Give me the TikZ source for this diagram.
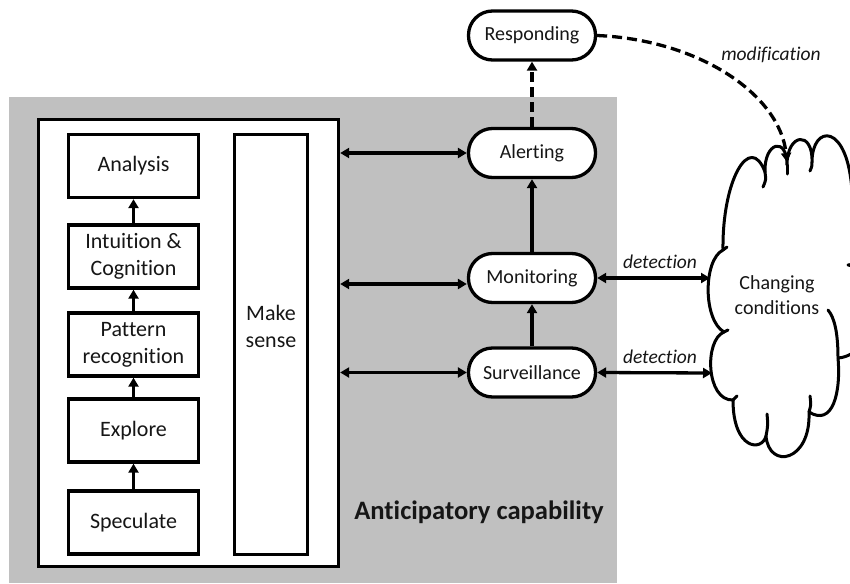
\documentclass[tikz,border=0pt]{standalone}
\usepackage{fontspec}
\setmainfont{Carlito}[Ligatures=NoCommon]
\usetikzlibrary{arrows.meta,calc}
\definecolor{panelgray}{RGB}{192,192,192}
\definecolor{ink}{RGB}{22,22,22}

\begin{document}
\begin{tikzpicture}[x=1pt,y=-1pt,
  every node/.style={text=ink},
  lw/.style={line width=3.3pt, draw=black},
  tip/.style={-{Triangle[length=9pt,width=10pt]}},
  twoway/.style={{Triangle[length=9pt,width=10pt]}-{Triangle[length=9pt,width=10pt]}},
  dashline/.style={dash pattern=on 10pt off 5pt},
  stagebox/.style={lw, fill=white, minimum width=130pt, minimum height=63pt,
    inner sep=0pt, align=center, font=\fontsize{22}{27}\selectfont},
  pill/.style={lw, fill=white, rounded corners=24pt, minimum width=127pt,
    minimum height=49pt, inner sep=0pt, font=\fontsize{20}{24}\selectfont},
  edgelabel/.style={font=\fontsize{19.5}{23}\itshape},
  cloudline/.style={line width=3pt, draw=black, line join=round, line cap=round}
]
\useasboundingbox (0,0) rectangle (850,583);

% grey panel of the anticipatory capability
\node[fill=panelgray, minimum width=608pt, minimum height=486pt, inner sep=0pt,
      anchor=north west] (panel) at (9,97) {};
\node[font=\fontsize{26.6}{30}\bfseries\selectfont] (cap) at (479,512) {Anticipatory capability};

% white frame with the sense-making stages
\node[lw, fill=white, minimum width=300pt, minimum height=447pt, inner sep=0pt] (outer) at (188.5,343) {};
\node[lw, fill=white, minimum width=73pt, minimum height=420pt, inner sep=0pt] (sense) at (271,344.5) {};
\node[align=center, font=\fontsize{22}{27}\selectfont] (senselabel) at (271,326) {Make\\sense};

\node[stagebox] (analysis) at (133.5,166) {Analysis};
\node[stagebox] (intuition) at (133.5,256.5) {Intuition \&\\Cognition};
\node[stagebox] (pattern) at (133.5,344.5) {Pattern\\recognition};
\node[stagebox] (explore) at (133.5,430.5) {Explore};
\node[stagebox] (speculate) at (133.5,522.5) {Speculate};

\draw[lw, tip] (speculate) -- (explore);
\draw[lw, tip] (explore) -- (pattern);
\draw[lw, tip] (pattern) -- (intuition);
\draw[lw, tip] (intuition) -- (analysis);

% monitoring chain
\node[pill] (respond) at (532,35.5) {Responding};
\node[pill] (alert) at (532,153) {Alerting};
\node[pill] (monitor) at (532,278) {Monitoring};
\node[pill] (surveil) at (532,372.5) {Surveillance};

\draw[lw, tip] (surveil) -- (monitor);
\draw[lw, tip] (monitor) -- (alert);
\draw[lw, tip, dashline] (alert) -- (respond);

\draw[lw, twoway] (outer.east |- alert.west) -- (alert.west);
\draw[lw, twoway] ([yshift=-6pt]outer.east |- monitor.west) -- ([yshift=-6pt]monitor.west);
\draw[lw, twoway] (outer.east |- surveil.west) -- (surveil.west);

% changing conditions cloud
\draw[cloudline, fill=white] (723,250)
  .. controls (722,180) and (750,132) .. (765,172)
  .. controls (764,142) and (787,136) .. (787,165)
  .. controls (787,133) and (813,130) .. (812,162)
  .. controls (812,124) and (848,122) .. (852,192)
  .. controls (885,195) and (885,262) .. (848,265)
  .. controls (885,270) and (880,355) .. (838,358)
  .. controls (841,392) and (833,427) .. (809,412)
  .. controls (811,462) and (769,470) .. (766,436)
  .. controls (762,452) and (733,450) .. (733,400)
  .. controls (706,401) and (704,340) .. (724,332)
  .. controls (703,320) and (703,260) .. (723,250) -- cycle;
% inner puff strokes
\draw[cloudline] (765,172) .. controls (766,180) .. (763,187);
\draw[cloudline] (787,165) -- (787,174);
\draw[cloudline] (812,162) .. controls (812,166) .. (810,171);
\draw[cloudline] (838,358) .. controls (838,335) and (835,318) .. (828,310);
\draw[cloudline] (809,412) .. controls (811,405) .. (810,396);
\draw[cloudline] (766,436) .. controls (768,425) .. (767,414);
\draw[cloudline] (733,400) -- (737,396);
\draw[cloudline] (724,332) -- (728,330);
\draw[cloudline] (723,250) -- (727,247);
\node[align=center, font=\fontsize{20}{24.5}\selectfont] (cond) at (777,295) {Changing\\conditions};

\coordinate (cloudM) at (710,278);
\coordinate (cloudS) at (712,373);
\coordinate (cloudT) at (787,162);

\draw[lw, twoway] (monitor.east) -- (cloudM);
\draw[lw, twoway] (surveil.east) -- (cloudS);
\node[edgelabel] (detM) at (660,262) {detection};
\node[edgelabel] (detS) at (660,357) {detection};

\draw[lw, tip, dashline] (respond.east) .. controls (700,40) and (780,95) .. (cloudT);
\node[edgelabel] (modif) at (771,55) {modification};
\end{tikzpicture}
\end{document}
